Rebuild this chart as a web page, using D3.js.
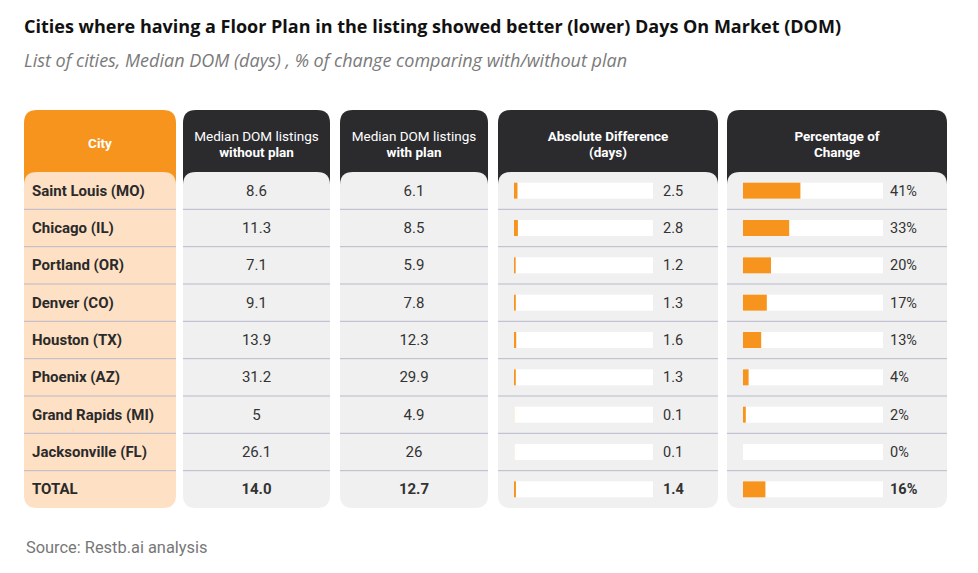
<!DOCTYPE html>
<html><head><meta charset="utf-8">
<script src="https://cdn.jsdelivr.net/npm/d3@7"></script>
<style>body{margin:0;background:#fff;}svg{display:block;}</style>
</head><body>
<script>
const cities = ["Saint Louis (MO)","Chicago (IL)","Portland (OR)","Denver (CO)","Houston (TX)","Phoenix (AZ)","Grand Rapids (MI)","Jacksonville (FL)","TOTAL"];
const withoutPlan = ["8.6","11.3","7.1","9.1","13.9","31.2","5","26.1","14.0"];
const withPlan = ["6.1","8.5","5.9","7.8","12.3","29.9","4.9","26","12.7"];
const absDiff = [2.5,2.8,1.2,1.3,1.6,1.3,0.1,0.1,1.4];
const pctChange = [41,33,20,17,13,4,2,0,16];

const W=978,H=573;
const svg=d3.select("body").append("svg").attr("width",W).attr("height",H);
const font="Roboto, 'Noto Sans', sans-serif";

svg.append("text").attr("x",24).attr("y",33).attr("font-family","'Open Sans', sans-serif").attr("font-weight",700).attr("font-size",18).attr("fill","#111")
 .text("Cities where having a Floor Plan in the listing showed better (lower) Days On Market (DOM)");
svg.append("text").attr("x",24).attr("y",67).attr("font-family","'Open Sans', sans-serif").attr("font-style","italic").attr("font-size",18).attr("fill","#7a7a7a")
 .text("List of cities, Median DOM (days) , % of change comparing with/without plan");
svg.append("text").attr("x",26).attr("y",553).attr("font-family",font).attr("font-size",16.4).attr("fill","#777")
 .text("Source: Restb.ai analysis");

const headTop=110, bodyTop=172, bodyBottom=508, rad=13;
const y=d3.scaleBand().domain(cities).range([bodyTop,bodyBottom]).padding(0);

const cols=[
 {x0:24,x1:176,head:"#F7941D",body:"#FEE0C4",lines:[{t:"City",b:true}]},
 {x0:183,x1:330,head:"#2B2B2E",body:"#F0F0F0",lines:[{t:"Median DOM listings",b:false},{t:"without plan",b:true}]},
 {x0:340,x1:488,head:"#2B2B2E",body:"#F0F0F0",lines:[{t:"Median DOM listings",b:false},{t:"with plan",b:true}]},
 {x0:498,x1:718,head:"#2B2B2E",body:"#F0F0F0",lines:[{t:"Absolute Difference",b:true},{t:"(days)",b:true}]},
 {x0:727,x1:947,head:"#2B2B2E",body:"#F0F0F0",lines:[{t:"Percentage of",b:true},{t:"Change",b:true}]}
];

function roundTopRect(x0,y0,x1,y1,rr){
 return `M${x0},${y1}L${x0},${y0+rr}Q${x0},${y0} ${x0+rr},${y0}L${x1-rr},${y0}Q${x1},${y0} ${x1},${y0+rr}L${x1},${y1}Z`;
}
function roundAll(x0,y0,x1,y1,rr){
 return `M${x0},${y0+rr}Q${x0},${y0} ${x0+rr},${y0}L${x1-rr},${y0}Q${x1},${y0} ${x1},${y0+rr}L${x1},${y1-rr}Q${x1},${y1} ${x1-rr},${y1}L${x0+rr},${y1}Q${x0},${y1} ${x0},${y1-rr}Z`;
}

cols.forEach((c,i)=>{
 const g=svg.append("g");
 g.append("path").attr("d",roundTopRect(c.x0,headTop,c.x1,bodyTop+20,rad)).attr("fill",c.head);
 g.append("path").attr("d",roundAll(c.x0,bodyTop,c.x1,bodyBottom,rad)).attr("fill",c.body);
 const cx=(c.x0+c.x1)/2;
 if(c.lines.length===1){
  g.append("text").attr("x",cx).attr("y",148).attr("text-anchor","middle").attr("font-family",font).attr("font-weight",700).attr("font-size",13.5).attr("fill","#fff").text(c.lines[0].t);
 } else {
  c.lines.forEach((l,j)=>{
   g.append("text").attr("x",cx).attr("y",141+j*16).attr("text-anchor","middle").attr("font-family",font).attr("font-weight",l.b?700:400).attr("font-size",13.5).attr("fill","#fff").text(l.t);
  });
 }
 cities.slice(1).forEach(cn=>{
  g.append("line").attr("x1",c.x0).attr("x2",c.x1).attr("y1",y(cn)).attr("y2",y(cn)).attr("stroke","#b9b9cc").attr("stroke-width",1);
 });
});

const last=cities.length-1;
const rowText=(sel)=>sel.attr("font-family",font).attr("font-size",15);

svg.append("g").selectAll("text").data(cities).join("text")
 .attr("x",32).attr("y",d=>y(d)+y.bandwidth()/2+5)
 .call(rowText).attr("font-weight",700).attr("fill","#2a2a2a").text(d=>d);

[[withoutPlan,256.5],[withPlan,414]].forEach(([arr,cx])=>{
 svg.append("g").selectAll("text").data(arr).join("text")
  .attr("x",cx).attr("y",(d,i)=>y(cities[i])+y.bandwidth()/2+5).attr("text-anchor","middle")
  .call(rowText).attr("font-weight",(d,i)=>i===last?700:400).attr("fill","#333").text(d=>d);
});

const barH=16;
const xAbs=d3.scaleLinear().domain([0,100]).range([514,653]);
const xPct=d3.scaleLinear().domain([0,100]).range([743,883]);

function barCol(arr,xs,textX,fmt){
 const g=svg.append("g");
 g.selectAll("rect.track").data(arr).join("rect").attr("class","track")
  .attr("x",xs(0)).attr("width",xs(100)-xs(0)).attr("y",(d,i)=>y(cities[i])+y.bandwidth()/2-barH/2).attr("height",barH).attr("fill","#fff");
 g.selectAll("rect.bar").data(arr).join("rect").attr("class","bar")
  .attr("x",xs(0)).attr("width",d=>Math.max(0,xs(d)-xs(0))).attr("y",(d,i)=>y(cities[i])+y.bandwidth()/2-barH/2).attr("height",barH).attr("fill","#F7941D");
 g.selectAll("text").data(arr).join("text")
  .attr("x",textX).attr("y",(d,i)=>y(cities[i])+y.bandwidth()/2+5)
  .call(rowText).attr("font-size",14.5).attr("font-weight",(d,i)=>i===last?700:400).attr("fill","#333").text(fmt);
}
barCol(absDiff,xAbs,663,d=>d.toFixed(1));
barCol(pctChange,xPct,890,d=>d+"%");
</script>
</body></html>
